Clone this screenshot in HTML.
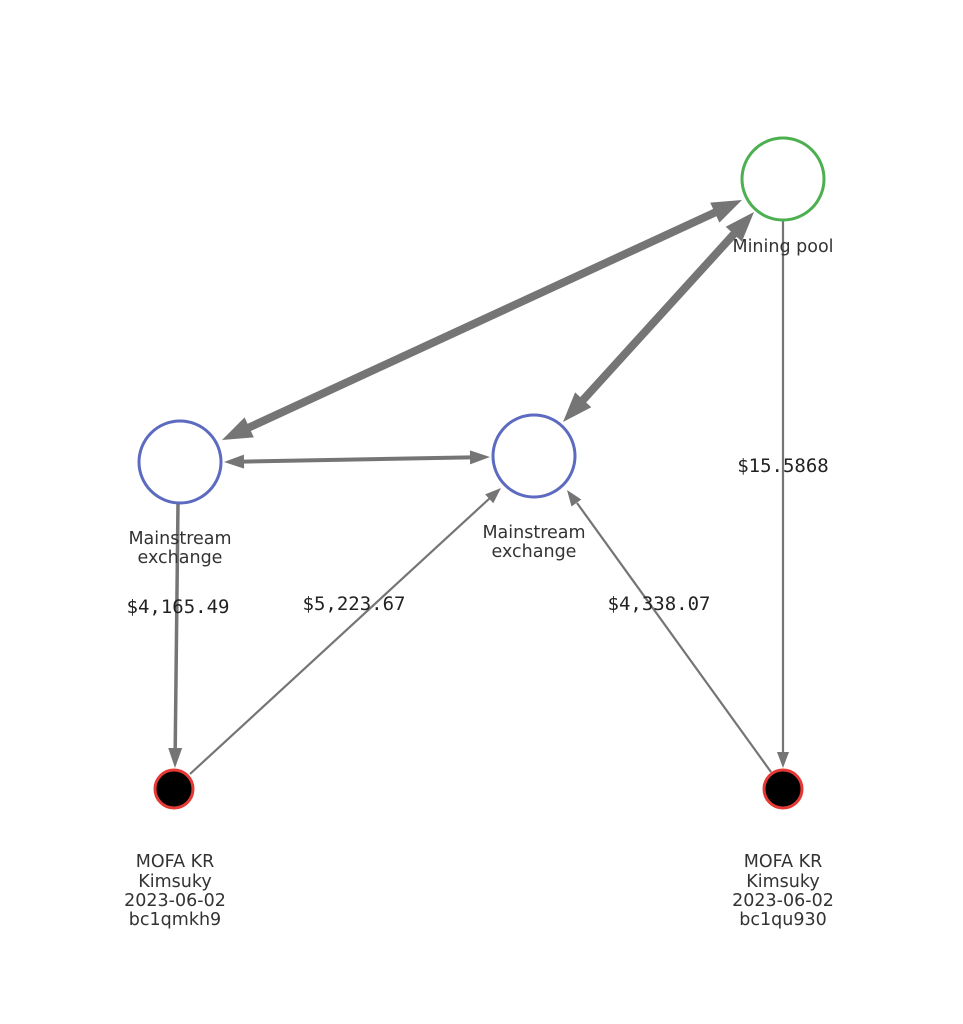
<!DOCTYPE html>
<html><head><meta charset="utf-8"><style>
html,body{margin:0;padding:0;background:#fff;}
svg{display:block;}
.lbl{font-family:"DejaVu Sans","Liberation Sans",sans-serif;font-size:17.5px;fill:#333;text-anchor:middle;}
.amt{font-family:"DejaVu Sans Mono","Liberation Mono",monospace;font-size:19px;fill:#222;text-anchor:middle;}
</style></head><body>
<svg width="963" height="1024" viewBox="0 0 963 1024" xmlns="http://www.w3.org/2000/svg">
<g stroke="#757575" fill="none" stroke-linecap="butt">
<line x1="249" y1="427.5" x2="715" y2="212.5" stroke-width="8"/>
<line x1="583" y1="400" x2="734" y2="234" stroke-width="8"/>
<line x1="244" y1="461.6" x2="470" y2="457.4" stroke-width="4"/>
<line x1="178" y1="504" x2="175.2" y2="749" stroke-width="3.5"/>
<line x1="190" y1="774" x2="490" y2="498" stroke-width="2.2"/>
<line x1="771" y1="772" x2="577" y2="503" stroke-width="2.2"/>
<line x1="783" y1="221" x2="783" y2="753" stroke-width="2.2"/>
</g>
<g fill="#757575">
<polygon points="742,200 719.4,222.6 710.2,202.6"/>
<polygon points="222,440 253.8,437.4 244.6,417.4"/>
<polygon points="754,212 741.9,241.6 725.7,226.8"/>
<polygon points="563,422 591.3,407.2 575.1,392.4"/>
<polygon points="490,457 470.1,464.4 469.9,450.4"/>
<polygon points="224,462 244.1,468.6 243.9,454.6"/>
<polygon points="175,768 168.2,748 182.2,748"/>
<polygon points="501,488 493.3,503.2 485.1,494.4"/>
<polygon points="567,490 581.3,499.5 571.5,506.5"/>
<polygon points="783,768 777,752 789,752"/>
</g>
<circle cx="783" cy="179" r="41" fill="#fff" stroke="#4caf50" stroke-width="3"/>
<circle cx="180" cy="462" r="41" fill="#fff" stroke="#5c6bc0" stroke-width="3"/>
<circle cx="534" cy="456" r="41" fill="#fff" stroke="#5c6bc0" stroke-width="3"/>
<circle cx="174" cy="789" r="19" fill="#000" stroke="#e53935" stroke-width="3"/>
<circle cx="783" cy="789" r="19" fill="#000" stroke="#e53935" stroke-width="3"/>
<text class="lbl" x="783" y="252">Mining pool</text>
<text class="lbl" x="180" y="544">Mainstream</text>
<text class="lbl" x="180" y="563">exchange</text>
<text class="lbl" x="534" y="538">Mainstream</text>
<text class="lbl" x="534" y="557">exchange</text>
<text class="amt" x="178" y="613">$4,165.49</text>
<text class="amt" x="354" y="610">$5,223.67</text>
<text class="amt" x="659" y="610">$4,338.07</text>
<text class="amt" x="783" y="472">$15.5868</text>
<text class="lbl" x="175" y="867">MOFA KR</text>
<text class="lbl" x="175" y="887">Kimsuky</text>
<text class="lbl" x="175" y="906">2023-06-02</text>
<text class="lbl" x="175" y="925">bc1qmkh9</text>
<text class="lbl" x="783" y="867">MOFA KR</text>
<text class="lbl" x="783" y="887">Kimsuky</text>
<text class="lbl" x="783" y="906">2023-06-02</text>
<text class="lbl" x="783" y="925">bc1qu930</text>
</svg>
</body></html>
